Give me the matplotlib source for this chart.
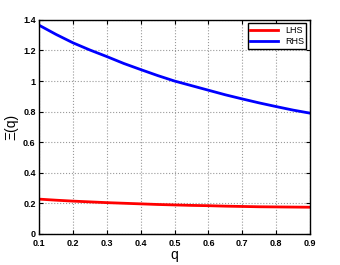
import numpy as np
import matplotlib
matplotlib.use('Agg')
import matplotlib.pyplot as plt

# ── data ─────────────────────────────────────────────────────────────────────
q   = [0.1, 0.15, 0.2, 0.25, 0.3, 0.35, 0.4, 0.45, 0.5,
       0.55, 0.6, 0.65, 0.7, 0.75, 0.8, 0.85, 0.9]
lhs = [0.228, 0.221, 0.215, 0.210, 0.205, 0.201, 0.197, 0.193, 0.190,
       0.187, 0.185, 0.182, 0.180, 0.178, 0.177, 0.176, 0.175]
rhs = [1.365, 1.305, 1.250, 1.203, 1.160, 1.115, 1.075, 1.036, 1.000,
       0.970, 0.940, 0.910, 0.883, 0.857, 0.833, 0.810, 0.790]

xticks = [0.1, 0.2, 0.3, 0.4, 0.5, 0.6, 0.7, 0.8, 0.9]
yticks = [0, 0.2, 0.4, 0.6, 0.8, 1.0, 1.2, 1.4]
ytick_labels = ['0', '0.2', '0.4', '0.6', '0.8', '1', '1.2', '1.4']

plt.rcParams['font.family'] = ['Liberation Sans', 'DejaVu Sans']

fig = plt.figure(figsize=(3.4, 2.65), dpi=100)
ax = fig.add_axes([0.115, 0.117, 0.797, 0.808])

ax.plot(q, lhs, color='#ff0000', lw=2, label='LHS')
ax.plot(q, rhs, color='#0000ff', lw=2, label='RHS')

ax.set_xlim(0.1, 0.9)
ax.set_ylim(0, 1.4)
ax.set_xticks(xticks)
ax.set_xticklabels([f'{t:g}' for t in xticks])
ax.set_yticks(yticks)
ax.set_yticklabels(ytick_labels)
ax.tick_params(direction='in', top=True, right=True, labelsize=6.5, length=3)
ax.tick_params(axis='x', pad=3.5)
ax.tick_params(axis='y', pad=2.5)
for lab in ax.get_xticklabels() + ax.get_yticklabels():
    lab.set_fontweight('bold')
ax.grid(True, linestyle=':', color='#999999', lw=0.8)
for s in ax.spines.values():
    s.set_linewidth(1.0)

ax.set_xlabel('q', fontsize=10, labelpad=0)
ax.set_ylabel('Ξ(q)', fontsize=10, labelpad=3)

leg = ax.legend(loc='upper right', fontsize=6.5, fancybox=False, framealpha=1,
                edgecolor='black', borderpad=0.3, handlelength=3, labelspacing=0.2,
                borderaxespad=0.4)
leg.get_frame().set_linewidth(1.0)

fig.savefig('out.png', dpi=100)
